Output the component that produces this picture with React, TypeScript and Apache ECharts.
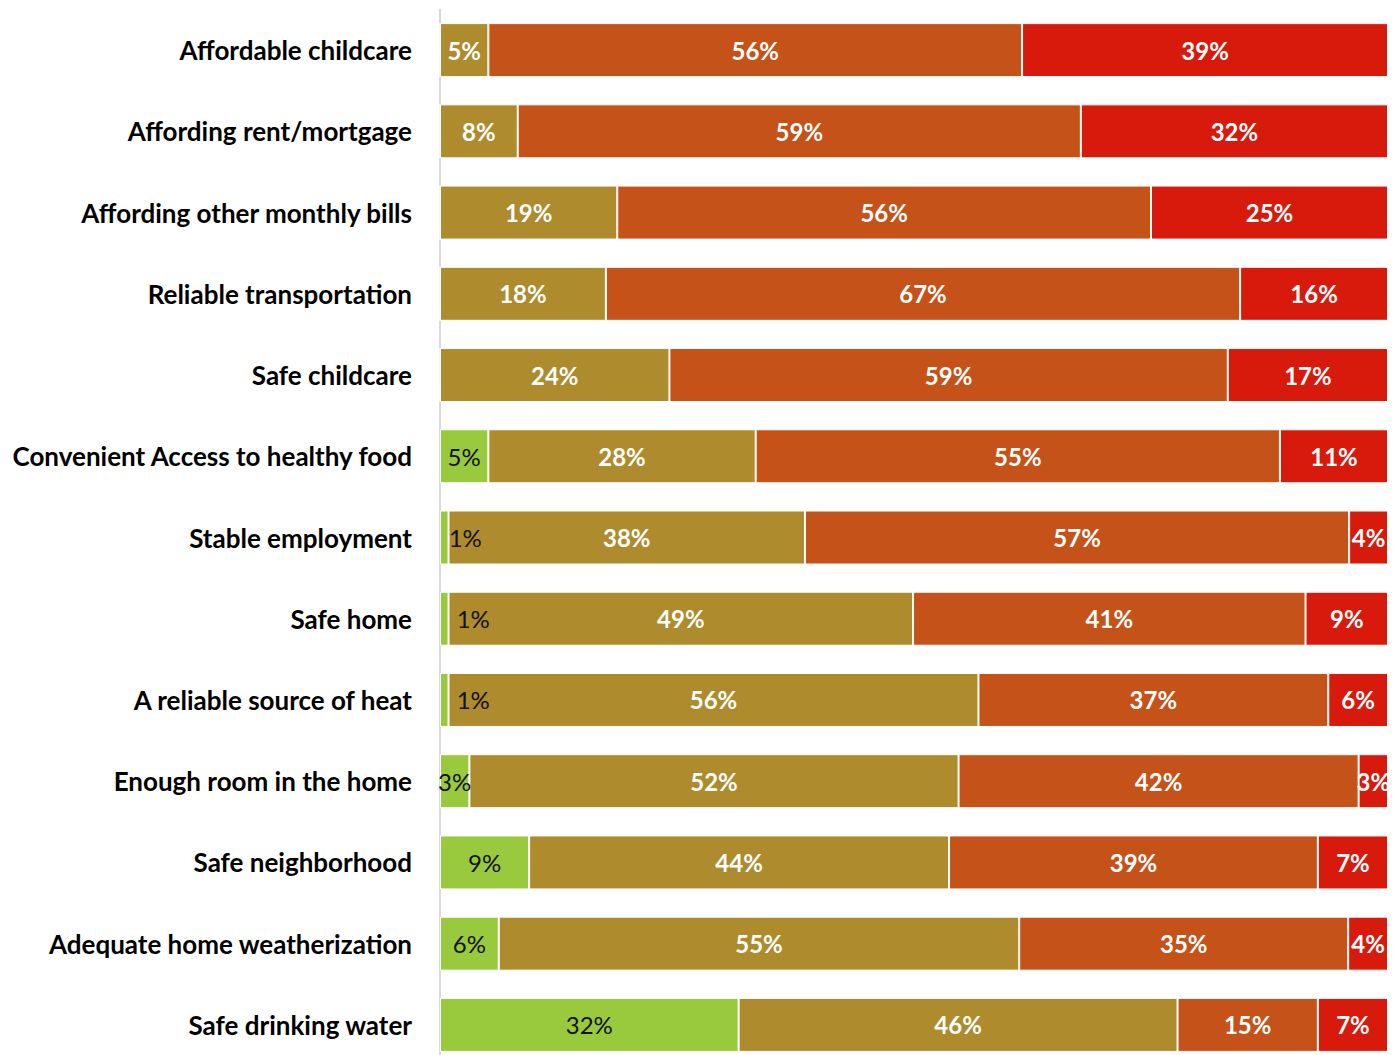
import React, { useEffect, useRef } from "react";
import * as echarts from "echarts";

const categories = [
  "Affordable childcare",
  "Affording rent/mortgage",
  "Affording other monthly bills",
  "Reliable transportation",
  "Safe childcare",
  "Convenient Access to healthy food",
  "Stable employment",
  "Safe home",
  "A reliable source of heat",
  "Enough room in the home",
  "Safe neighborhood",
  "Adequate home weatherization",
  "Safe drinking water",
];

const greenValues = [0, 0, 0, 0, 0, 5.1, 0.9, 0.9, 0.9, 3.1, 9.4, 6.2, 31.5];
const oliveValues = [5.1, 8.2, 18.7, 17.5, 24.2, 28.2, 37.6, 49.0, 55.9, 51.6, 44.3, 54.9, 46.3];
const orangeValues = [56.3, 59.4, 56.3, 66.9, 58.9, 55.3, 57.4, 41.4, 36.9, 42.2, 38.9, 34.7, 14.8];
const redValues = [38.6, 32.4, 25.0, 15.6, 16.9, 11.4, 4.1, 8.7, 6.3, 3.1, 7.4, 4.2, 7.4];

const seriesColors = ["#99C93C", "#AE8B2C", "#C55218", "#D71A0B"];
const FONT = "Lato, 'Open Sans', sans-serif";

// label offsets for tiny green segments (style only)
const greenLabelOffsets: Record<number, [number, number]> = {
  6: [21, 0],
  7: [29, 0],
  8: [29, 0],
};

export default function App() {
  const ref = useRef<HTMLDivElement>(null);
  useEffect(() => {
    if (!ref.current) return;
    const chart = echarts.init(ref.current, null, { renderer: "svg" });
    const fmt = (p: any) => `${Math.round(p.value)}%`;
    const makeSeries = (name: string, values: number[], idx: number) => ({
      name,
      type: "bar",
      stack: "total",
      barWidth: 54,
      itemStyle: { color: seriesColors[idx], borderColor: "#ffffff", borderWidth: 1 },
      label: {
        show: true,
        position: "inside",
        formatter: fmt,
        color: idx === 0 ? "#111111" : "#ffffff",
        fontWeight: idx === 0 ? "normal" : "bold",
        fontSize: 24,
        fontFamily: FONT,
      },
      data: values.map((v, i) => {
        if (v === 0) return { value: v, label: { show: false } };
        if (idx === 0 && greenLabelOffsets[i]) {
          return { value: v, label: { offset: greenLabelOffsets[i] } };
        }
        return v;
      }),
    });
    chart.setOption({
      animation: false,
      grid: { left: 440, right: 5, top: 9.5, height: 1056, containLabel: false },
      xAxis: { type: "value", min: 0, max: 100, show: false },
      yAxis: {
        type: "category",
        data: categories,
        inverse: true,
        axisLine: { show: true, lineStyle: { color: "#D9D9D9", width: 2 } },
        axisTick: { show: false },
        axisLabel: {
          margin: 28,
          fontSize: 26,
          fontWeight: "bold",
          color: "#000000",
          fontFamily: FONT,
        },
      },
      series: [
        makeSeries("Green", greenValues, 0),
        makeSeries("Olive", oliveValues, 1),
        makeSeries("Orange", orangeValues, 2),
        makeSeries("Red", redValues, 3),
      ],
    });
    return () => chart.dispose();
  }, []);
  return (
    <div
      ref={ref}
      style={{ position: "fixed", left: 0, top: 0, width: 1393, height: 1075, background: "#fff" }}
    />
  );
}
